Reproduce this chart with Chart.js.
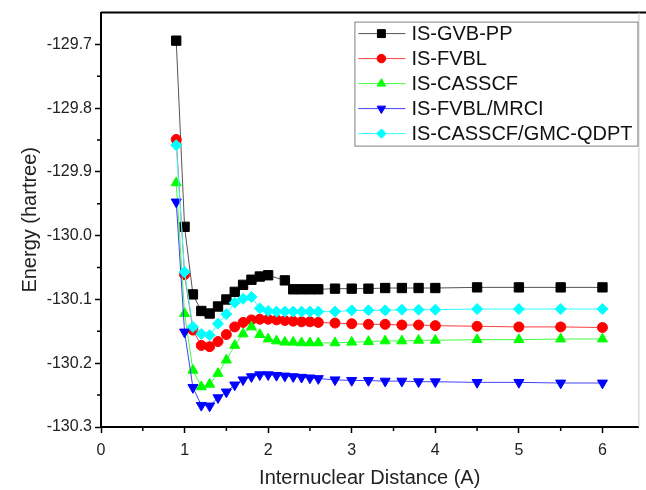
<!DOCTYPE html>
<html>
<head>
<meta charset="utf-8">
<script src="https://cdn.jsdelivr.net/npm/chart.js@4.4.1/dist/chart.umd.min.js"></script>
<style>
  html, body { margin: 0; padding: 0; background: #fff; }
  #wrap { width: 646px; height: 490px; }
</style>
</head>
<body>
<div id="wrap"><canvas id="pesChart" width="646" height="490"></canvas></div>
<script>
// 核間距離 (A)
const distFull = [0.9, 1.0, 1.1, 1.2, 1.3, 1.4, 1.5, 1.6, 1.7, 1.8, 1.9, 2.0, 2.1, 2.2, 2.3, 2.4, 2.5, 2.6,
                  2.8, 3.0, 3.2, 3.4, 3.6, 3.8, 4.0, 4.5, 5.0, 5.5, 6.0];
// GVB-PP は 2.1 の点がない
const distGvb = [0.9, 1.0, 1.1, 1.2, 1.3, 1.4, 1.5, 1.6, 1.7, 1.8, 1.9, 2.0, 2.2, 2.3, 2.4, 2.5, 2.6,
                 2.8, 3.0, 3.2, 3.4, 3.6, 3.8, 4.0, 4.5, 5.0, 5.5, 6.0];

// エネルギー (hartree)
const gvbPP = [-129.694, -129.986, -130.092, -130.118, -130.122, -130.111, -130.100, -130.088, -130.077, -130.069,
               -130.064, -130.062, -130.070, -130.084, -130.084, -130.084, -130.084,
               -130.083, -130.083, -130.083, -130.082, -130.082, -130.082, -130.082, -130.081, -130.081, -130.081, -130.081];
const fvbl = [-129.849, -130.061, -130.148, -130.172, -130.174, -130.166, -130.155, -130.143, -130.136, -130.132,
              -130.131, -130.131, -130.132, -130.133, -130.134, -130.135, -130.135, -130.136,
              -130.137, -130.138, -130.139, -130.139, -130.140, -130.140, -130.141, -130.142, -130.143, -130.143, -130.144];
const casscf = [-129.917, -130.122, -130.211, -130.237, -130.233, -130.216, -130.195, -130.172, -130.154, -130.143,
                -130.155, -130.162, -130.165, -130.167, -130.167, -130.168, -130.168, -130.168,
                -130.168, -130.167, -130.166, -130.165, -130.165, -130.164, -130.164, -130.163, -130.163, -130.162, -130.162];
const fvblMrci = [-129.947, -130.151, -130.238, -130.266, -130.267, -130.254, -130.245, -130.234, -130.226, -130.221,
                  -130.218, -130.218, -130.219, -130.220, -130.221, -130.222, -130.223, -130.224,
                  -130.226, -130.227, -130.227, -130.228, -130.228, -130.229, -130.229, -130.230, -130.230, -130.231, -130.231];
const gmcQdpt = [-129.858, -130.057, -130.143, -130.154, -130.156, -130.138, -130.123, -130.105, -130.099, -130.096,
                 -130.114, -130.118, -130.119, -130.119, -130.119, -130.119, -130.119, -130.119,
                 -130.119, -130.117, -130.117, -130.117, -130.116, -130.116, -130.116, -130.115, -130.115, -130.115, -130.115];

const seriesNames = ['IS-GVB-PP', 'IS-FVBL', 'IS-CASSCF', 'IS-FVBL/MRCI', 'IS-CASSCF/GMC-QDPT'];

// 目盛り
const xTicks = [0, 1, 2, 3, 4, 5, 6];
const yTicks = [-130.3, -130.2, -130.1, -130.0, -129.9, -129.8, -129.7];
const xMinorTicks = [0.5, 1.5, 2.5, 3.5, 4.5, 5.5];
const yMinorTicks = [-130.25, -130.15, -130.05, -129.95, -129.85, -129.75];

const FONT = '"Liberation Sans", Arial, sans-serif';

function toPoints(xs, ys) {
    return xs.map((x, i) => ({ x: x, y: ys[i] }));
}

function makeSet(label, xs, ys, line, fill, style, radius, rotation, order) {
    return {
        label: label,
        data: toPoints(xs, ys),
        borderColor: line,
        borderWidth: 1,
        backgroundColor: fill,
        pointBackgroundColor: fill,
        pointBorderColor: fill,
        pointBorderWidth: 1,
        pointStyle: style,
        pointRadius: radius,
        pointRotation: rotation,
        showLine: true,
        tension: 0,
        order: order
    };
}

// 副目盛りと枠、凡例を描くプラグイン
const framePlugin = {
    id: 'frame',
    afterDraw(chart) {
        const ctx = chart.ctx;
        const area = chart.chartArea;
        const xs = chart.scales.x;
        const ys = chart.scales.y;
        ctx.save();

        // 上の枠と右の枠
        ctx.strokeStyle = '#000';
        ctx.lineWidth = 2;
        ctx.beginPath();
        ctx.moveTo(area.left, area.top);
        ctx.lineTo(chart.width, area.top);
        ctx.stroke();
        ctx.strokeStyle = '#c8c8c8';
        ctx.lineWidth = 1;
        ctx.beginPath();
        ctx.moveTo(area.right + 0.5, area.top);
        ctx.lineTo(area.right + 0.5, area.bottom);
        ctx.stroke();

        // 副目盛り
        ctx.strokeStyle = '#000';
        ctx.lineWidth = 1.5;
        ctx.beginPath();
        xMinorTicks.forEach((v) => {
            const px = xs.getPixelForValue(v);
            ctx.moveTo(px, area.bottom);
            ctx.lineTo(px, area.bottom + 4);
        });
        yMinorTicks.forEach((v) => {
            const py = ys.getPixelForValue(v);
            ctx.moveTo(area.left, py);
            ctx.lineTo(area.left - 4, py);
        });
        ctx.stroke();

        // 凡例
        const boxW = 283, boxH = 124, rowH = 25;
        const bx = area.right - boxW - 1;
        const by = area.top + 9;
        ctx.fillStyle = '#fff';
        ctx.fillRect(bx, by, boxW, boxH);
        ctx.strokeStyle = '#808080';
        ctx.lineWidth = 1;
        ctx.strokeRect(bx + 0.5, by + 0.5, boxW, boxH);
        ctx.font = '20px ' + FONT;
        ctx.textBaseline = 'middle';
        ctx.textAlign = 'left';
        chart.data.datasets.forEach((ds, row) => {
            const cy = by + 12 + row * rowH;
            ctx.strokeStyle = ds.borderColor;
            ctx.lineWidth = 1;
            ctx.beginPath();
            ctx.moveTo(bx + 4, cy);
            ctx.lineTo(bx + 51, cy);
            ctx.stroke();
            ctx.fillStyle = ds.pointBackgroundColor;
            ctx.strokeStyle = ds.pointBorderColor;
            Chart.helpers.drawPoint(ctx, {
                pointStyle: ds.pointStyle,
                rotation: ds.pointRotation,
                radius: ds.pointRadius * 0.85,
                borderWidth: 1
            }, bx + 27, cy);
            ctx.fillStyle = '#111';
            ctx.fillText(ds.label, bx + 57, cy + 1);
        });
        ctx.restore();
    }
};

const ctx = document.getElementById('pesChart').getContext('2d');

const pesChart = new Chart(ctx, {
    type: 'line',
    data: {
        datasets: [
            makeSet(seriesNames[0], distGvb, gvbPP, '#555555', '#000000', 'rect', 6.6, 0, 4),
            makeSet(seriesNames[1], distFull, fvbl, '#ff4040', '#ff0000', 'circle', 5, 0, 3),
            makeSet(seriesNames[2], distFull, casscf, '#40ff40', '#00ff00', 'triangle', 5.8, 0, 2),
            makeSet(seriesNames[3], distFull, fvblMrci, '#4040ff', '#0000ff', 'triangle', 5.8, 180, 1),
            makeSet(seriesNames[4], distFull, gmcQdpt, '#30ffff', '#00ffff', 'rectRot', 5.5, 0, 0)
        ]
    },
    options: {
        responsive: false,
        animation: false,
        devicePixelRatio: 1,
        layout: { padding: { top: 12, right: 4, left: 0, bottom: 0 } },
        plugins: {
            legend: { display: false },
            tooltip: { enabled: false }
        },
        scales: {
            x: {
                type: 'linear',
                min: 0,
                max: 6.43,
                afterBuildTicks: (s) => { s.ticks = xTicks.map((v) => ({ value: v })); },
                afterFit: (s) => { s.height = 63; },
                border: { color: '#000', width: 2 },
                grid: {
                    drawOnChartArea: false,
                    tickLength: 6,
                    tickWidth: 1.5,
                    tickColor: '#000'
                },
                ticks: {
                    padding: 8,
                    color: '#222',
                    font: { family: FONT, size: 16 },
                    callback: (v) => String(v)
                },
                title: {
                    display: true,
                    text: 'Internuclear Distance (A)',
                    color: '#222',
                    font: { family: FONT, size: 20 },
                    padding: { top: 0, bottom: 0 }
                }
            },
            y: {
                type: 'linear',
                min: -130.3,
                max: -129.65,
                afterBuildTicks: (s) => { s.ticks = yTicks.map((v) => ({ value: v })); },
                afterFit: (s) => { s.width = 101; },
                border: { color: '#000', width: 2 },
                grid: {
                    drawOnChartArea: false,
                    tickLength: 6,
                    tickWidth: 1.5,
                    tickColor: '#000'
                },
                ticks: {
                    padding: 3,
                    color: '#222',
                    font: { family: FONT, size: 16 },
                    callback: (v) => v.toFixed(1)
                },
                title: {
                    display: true,
                    text: 'Energy (hartree)',
                    color: '#222',
                    font: { family: FONT, size: 20 },
                    padding: { top: 18, bottom: 0 }
                }
            }
        }
    },
    plugins: [framePlugin]
});
</script>
</body>
</html>
